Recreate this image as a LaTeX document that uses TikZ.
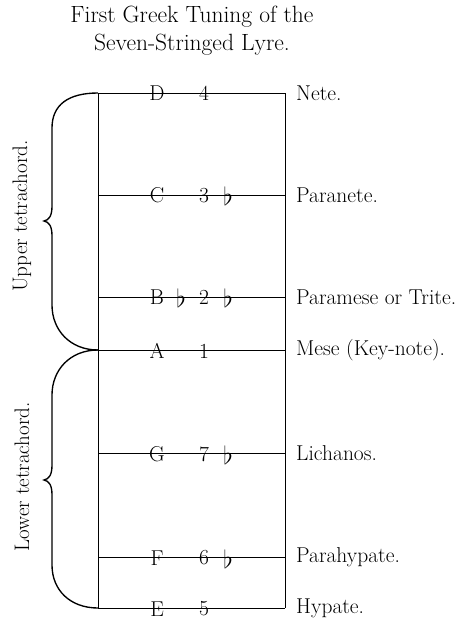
\documentclass[tikz,border=0pt]{standalone}
\usepackage{amssymb}
\tikzset{
  txt/.style={font=\fontsize{21.5}{25}\selectfont, inner sep=0pt},
  notetxt/.style={txt, anchor=center},
  flattxt/.style={font=\fontsize{27}{30}\selectfont, inner sep=0pt, anchor=center},
  stringname/.style={txt, anchor=west},
  sidetxt/.style={font=\fontsize{21}{24}\selectfont, inner sep=0pt, rotate=90},
  stringline/.style={line width=0.85pt},
  bracepath/.style={line width=1.35pt}
}
\begin{document}
\begin{tikzpicture}[x=1pt,y=-1pt]
\useasboundingbox (0,0) rectangle (463,622);

% title
\node[font=\fontsize{23.5}{27}\selectfont, inner sep=0pt, align=center] (title) at (192,31)
  {First Greek Tuning of the\\[1pt]Seven-Stringed Lyre.};

% string positions (left and right ends)
\foreach \n/\y in {D/93, C/195, B/297, A/350, G/453, F/557, E/608} {
  \coordinate (L\n) at (98,\y);
  \coordinate (R\n) at (285,\y);
}

% frame
\draw[stringline] (LD) -- (LE);
\draw[stringline] (RD) -- (RE);
\foreach \n in {D,C,B,A,G,F,E} \draw[stringline] (L\n) -- (R\n);

% note letters and numbers
\node[notetxt] (nD) at (157,93.5) {D};   \node[notetxt] (dD) at (204,93.5) {4};
\node[notetxt] (nC) at (157,195.5) {C};  \node[notetxt] (dC) at (204,195.5) {3};
\node[flattxt] (fC) at (228,196) {$\flat$};
\node[notetxt] (nB) at (157,297.5) {B};  \node[flattxt] (fB1) at (181,298) {$\flat$};
\node[notetxt] (dB) at (204,297.5) {2};  \node[flattxt] (fB2) at (228,298) {$\flat$};
\node[notetxt] (nA) at (157,351) {A};    \node[notetxt] (dA) at (204,351) {1};
\node[notetxt] (nG) at (157,454) {G};    \node[notetxt] (dG) at (204,454) {7};
\node[flattxt] (fG) at (228,455) {$\flat$};
\node[notetxt] (nF) at (157,558) {F};    \node[notetxt] (dF) at (204,558) {6};
\node[flattxt] (fF) at (228,559) {$\flat$};
\node[notetxt] (nE) at (157,609) {E};    \node[notetxt] (dE) at (204,609) {5};

% string names
\node[stringname] (tD) at (296,93)  {Nete.};
\node[stringname] (tC) at (296,195) {Paranete.};
\node[stringname] (tB) at (296,297) {Paramese or Trite.};
\node[stringname] (tA) at (296,350) {Mese (Key-note).};
\node[stringname] (tG) at (296,453) {Lichanos.};
\node[stringname] (tF) at (296,557) {Parahypate.};
\node[stringname] (tE) at (296,608) {Hypate.};

% tetrachord braces
\coordinate (tipU) at (44,221);
\coordinate (tipL) at (44,480);
\draw[bracepath] (LD) .. controls (68,93) and (52,105) .. (52,128)
  -- (52,206) .. controls (52,216) and (49,220) .. (tipU)
  .. controls (49,222) and (52,226) .. (52,236)
  -- (52,305) .. controls (52,330) and (70,350) .. (LA);
\draw[bracepath] (LA) .. controls (70,350) and (52,370) .. (52,395)
  -- (52,465) .. controls (52,475) and (49,479) .. (tipL)
  .. controls (49,481) and (52,485) .. (52,495)
  -- (52,565) .. controls (52,590) and (70,608) .. (LE);

\node[sidetxt] (up) at (22,216) {Upper tetrachord.};
\node[sidetxt] (lo) at (22,477) {Lower tetrachord.};
\end{tikzpicture}
\end{document}
